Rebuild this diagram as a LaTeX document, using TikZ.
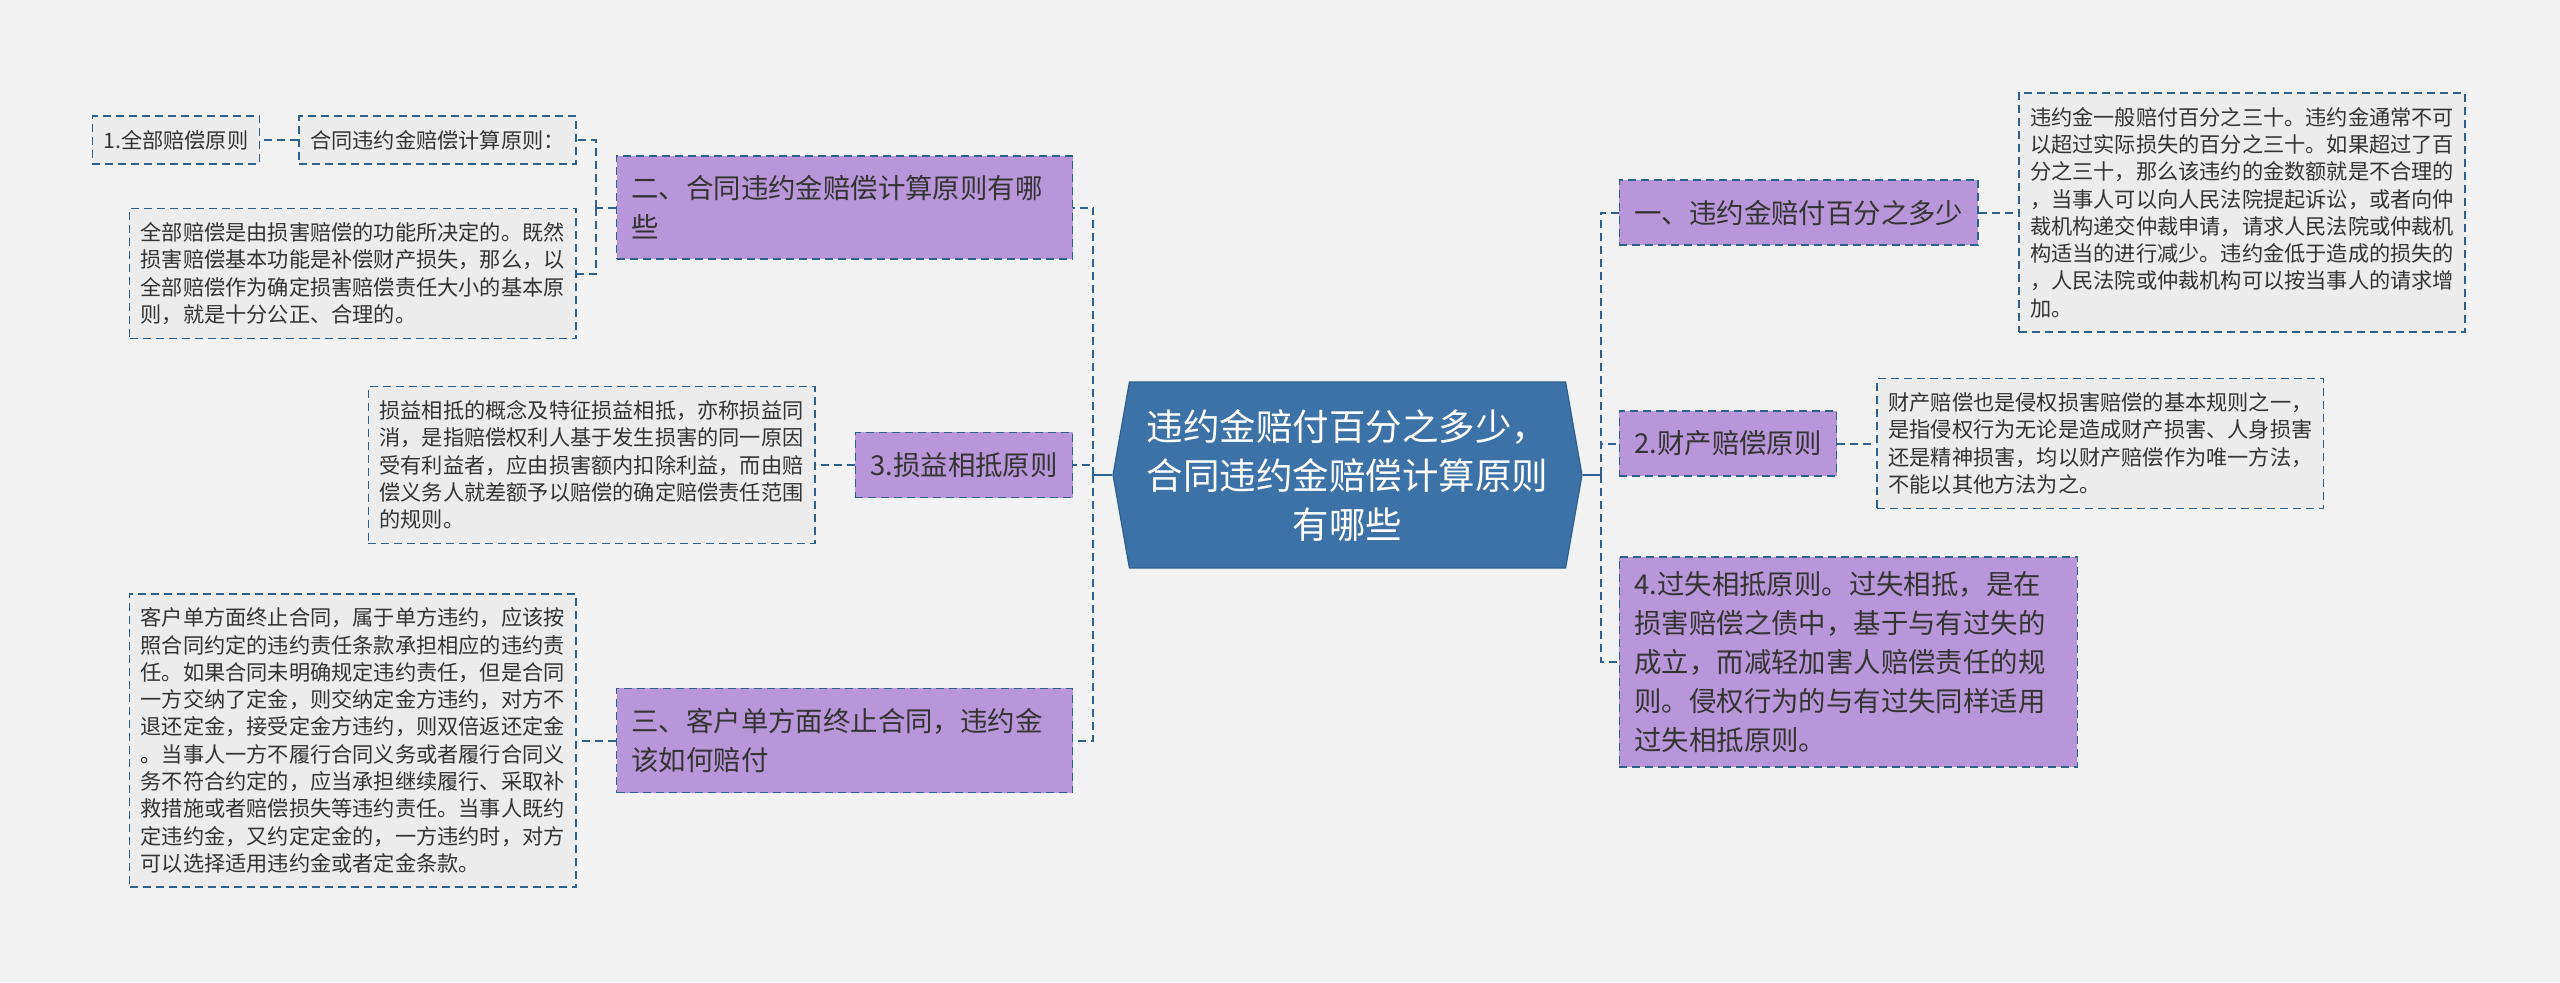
\documentclass[tikz,border=0pt]{standalone}
\usepackage{fontspec}
\setmainfont{Noto Sans CJK SC}
\usetikzlibrary{positioning,shapes.symbols}
\definecolor{fondo}{RGB}{242,242,242}
\definecolor{azul}{RGB}{60,114,165}
\definecolor{borde}{RGB}{46,96,140}
\definecolor{lila}{RGB}{183,151,218}
\definecolor{gris}{RGB}{236,236,236}
\definecolor{tinta}{RGB}{51,51,51}

\begin{document}
\begin{tikzpicture}[x=0.5pt,y=-0.5pt,
root/.style={signal,signal to=east and west,signal pointer angle=160,fill=azul,draw=borde,line width=0.6pt,text=white,align=center,font=\fontsize{18.25pt}{24.5pt}\selectfont,minimum width=234.5pt,minimum height=93pt,inner sep=0pt},
topic/.style={draw=borde,dash pattern=on 4pt off 2.5pt,line width=0.8pt,fill=lila,text=tinta,align=left,inner xsep=7.5pt,inner ysep=10pt,font=\fontsize{13.7pt}{19.4pt}\selectfont},
note/.style={draw=borde,dash pattern=on 4pt off 2.5pt,line width=0.8pt,fill=gris,text=tinta,align=left,inner xsep=5.6pt,inner ysep=7pt,font=\fontsize{10.6pt}{13.65pt}\selectfont},
link/.style={draw=borde,dash pattern=on 4pt off 2.5pt,line width=1pt},
stem/.style={draw=borde,line width=1.2pt}
]
\path[use as bounding box,fill=fondo] (0,0) rectangle (2560,982);

\node[root] (root) at (1347.5,475) {违约金赔付百分之多少，\\合同违约金赔偿计算原则\\有哪些};

% left branch
\node[topic,text width=213pt,left=19.5pt of root,yshift=133.75pt] (calcRule) {二、合同违约金赔偿计算原则有哪\\些};
\node[topic,left=19.5pt of root,yshift=5pt] (offsetRule) {3.损益相抵原则};
\node[topic,text width=213pt,left=19.5pt of root,yshift=-132.75pt] (cancelRule) {三、客户单方面终止合同，违约金\\该如何赔付};

\node[note,left=19.5pt of calcRule,yshift=33.75pt] (calcHead) {合同违约金赔偿计算原则：};
\node[note,left=19pt of calcHead] (fullRule) {1.全部赔偿原则};
\node[note,left=19.5pt of calcRule,yshift=-33pt] (fullText) {全部赔偿是由损害赔偿的功能所决定的。既然\\损害赔偿基本功能是补偿财产损失，那么，以\\全部赔偿作为确定损害赔偿责任大小的基本原\\则，就是十分公正、合理的。};
\node[note,left=19.5pt of offsetRule] (offsetText) {损益相抵的概念及特征损益相抵，亦称损益同\\消，是指赔偿权利人基于发生损害的同一原因\\受有利益者，应由损害额内扣除利益，而由赔\\偿义务人就差额予以赔偿的确定赔偿责任范围\\的规则。};
\node[note,left=19.5pt of cancelRule] (cancelText) {客户单方面终止合同，属于单方违约，应该按\\照合同约定的违约责任条款承担相应的违约责\\任。如果合同未明确规定违约责任，但是合同\\一方交纳了定金，则交纳定金方违约，对方不\\退还定金，接受定金方违约，则双倍返还定金\\。当事人一方不履行合同义务或者履行合同义\\务不符合约定的，应当承担继续履行、采取补\\救措施或者赔偿损失等违约责任。当事人既约\\定违约金，又约定定金的，一方违约时，对方\\可以选择适用违约金或者定金条款。};

% right branch
\node[topic,right=18pt of root,yshift=131.25pt] (ratioRule) {一、违约金赔付百分之多少};
\node[topic,right=18pt of root,yshift=15.75pt] (propRule) {2.财产赔偿原则};
\node[topic,text width=214pt,inner ysep=7.5pt,right=18pt of root,yshift=-93.5pt] (faultRule) {4.过失相抵原则。过失相抵，是在\\损害赔偿之债中，基于与有过失的\\成立，而减轻加害人赔偿责任的规\\则。侵权行为的与有过失同样适用\\过失相抵原则。};

\node[note,right=19.5pt of ratioRule] (ratioText) {违约金一般赔付百分之三十。违约金通常不可\\以超过实际损失的百分之三十。如果超过了百\\分之三十，那么该违约的金数额就是不合理的\\，当事人可以向人民法院提起诉讼，或者向仲\\裁机构递交仲裁申请，请求人民法院或仲裁机\\构适当的进行减少。违约金低于造成的损失的\\，人民法院或仲裁机构可以按当事人的请求增\\加。};
\node[note,right=19.5pt of propRule] (propText) {财产赔偿也是侵权损害赔偿的基本规则之一，\\是指侵权行为无论是造成财产损害、人身损害\\还是精神损害，均以财产赔偿作为唯一方法，\\不能以其他方法为之。};

% connectors
\draw[stem] (root.west) -- ++(-19,0) coordinate (lj);
\draw[stem] (root.east) -- ++(18,0) coordinate (rj);
\foreach \n in {calcRule,offsetRule,cancelRule} \draw[link] (lj) |- (\n.east);
\foreach \n in {ratioRule,propRule,faultRule} \draw[link] (rj) |- (\n.west);
\draw[link] (calcRule.west) -- ++(-19.5,0) coordinate (cj);
\foreach \n in {calcHead,fullText} \draw[link] (cj) |- (\n.east);
\draw[link] (calcHead) -- (fullRule);
\draw[link] (offsetRule) -- (offsetText);
\draw[link] (cancelRule) -- (cancelText);
\draw[link] (ratioRule) -- (ratioText);
\draw[link] (propRule) -- (propText);
\end{tikzpicture}
\end{document}
